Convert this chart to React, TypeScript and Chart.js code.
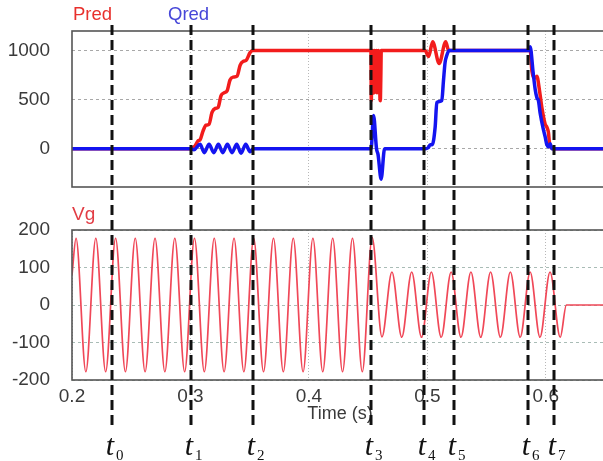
import React, { useEffect, useRef } from 'react';
import { Chart, registerables } from 'chart.js';

Chart.register(...registerables);

const X_MIN = 0.2;
const X_MAX = 0.65;
const X_TICKS = [0.2, 0.3, 0.4, 0.5, 0.6];
const TOP_Y_TICKS = [0, 500, 1000];

// Event instants t0..t7 (s)
const eventTimes = [0.2338, 0.3003, 0.3529, 0.4523, 0.4973, 0.5226, 0.5851, 0.6071];
const eventLabels = ['0', '1', '2', '3', '4', '5', '6', '7'];

// Pred (red)
const predT = [0.2, 0.2997, 0.3039, 0.3064, 0.3081, 0.3106, 0.3132, 0.3157, 0.3182, 0.3208, 0.3233, 0.3258, 0.3284, 0.3309, 0.3334, 0.336, 0.3394, 0.3419, 0.3444, 0.347, 0.3503, 0.3529,
  0.4524, 0.4527, 0.4531, 0.4535, 0.4539, 0.4543, 0.4547, 0.4551, 0.4555, 0.4559, 0.4563, 0.4567, 0.4571, 0.4575, 0.4579, 0.4583, 0.4587, 0.4591, 0.4595, 0.4599, 0.4603, 0.4607, 0.4611,
  0.4981, 0.5011, 0.5045, 0.51, 0.5155, 0.518,
  0.5854, 0.5868, 0.5883, 0.591, 0.5925, 0.5944, 0.5967, 0.5995, 0.6009, 0.6023, 0.6031, 0.6046, 0.6062, 0.65];
const predV = [0, 0, 30, 80, 90, 180, 240, 250, 370, 410, 420, 540, 570, 590, 700, 730, 740, 850, 890, 900, 980, 1000,
  1000, 490, 990, 560, 1000, 580, 990, 570, 1000, 600, 990, 580, 1000, 570, 990, 590, 1000, 600, 990, 560, 490, 700, 1000,
  1000, 940, 1090, 870, 1090, 1000,
  1000, 1010, 790, 720, 740, 620, 420, 250, 220, 160, 60, 10, 0, 0];

// Qred (blue)
const qredT = [0.2, 0.2997, 0.303, 0.3081, 0.3117, 0.3157, 0.3197, 0.3236, 0.3273, 0.3312, 0.3351, 0.3391, 0.3427, 0.3467, 0.3503, 0.3529,
  0.4525, 0.4546, 0.4571, 0.4584, 0.461, 0.4639,
  0.4981, 0.5007, 0.5024, 0.5041, 0.5066, 0.508, 0.5122, 0.5136, 0.515, 0.5164, 0.5184,
  0.5854, 0.5868, 0.5893, 0.591, 0.5925, 0.5938, 0.5953, 0.5981, 0.5995, 0.6009, 0.6023, 0.6037, 0.6052, 0.65];
const qredV = [0, 0, -10, 45, -40, 45, -40, 45, -40, 45, -40, 45, -45, 45, -30, 0,
  0, 340, 0, -60, -310, 0,
  0, 10, 40, 40, 220, 470, 490, 690, 880, 950, 1000,
  1000, 1040, 780, 610, 520, 490, 360, 190, 120, 40, 20, 50, 0, 0];

// Vg (grid voltage) extrema
const vgT = [0.2, 0.2034, 0.2117, 0.2201, 0.2284, 0.2368, 0.2451, 0.2534, 0.2617, 0.2701, 0.2784, 0.2868, 0.2951,
  0.3034, 0.3117, 0.3201, 0.3284, 0.3368, 0.3451, 0.3534, 0.3617, 0.3701, 0.3784, 0.3868, 0.3951,
  0.4034, 0.4117, 0.4201, 0.4284, 0.4368, 0.4451, 0.4534,
  0.4617, 0.4701, 0.4784, 0.4868, 0.4951, 0.5034, 0.5117, 0.5201, 0.5284, 0.5368, 0.5451, 0.5534,
  0.5617, 0.5701, 0.5784, 0.5868, 0.5951, 0.6036, 0.6122, 0.6174, 0.65];
const vgV = [80, 178, -178, 178, -178, 178, -178, 178, -178, 178, -178, 178, -178,
  178, -178, 178, -178, 178, -178, 178, -178, 178, -178, 178, -178,
  178, -178, 178, -178, 178, -178, 180,
  -85, 88, -86, 88, -86, 88, -86, 88, -86, 88, -86, 88,
  -86, 88, -86, 88, -86, 88, -86, 0, 0];

const FONT = "'Liberation Sans', Arial, sans-serif";
const TICK_COLOR = '#3a3a3a';

const toXY = (t: number[], v: number[]) => t.map((x, i) => ({ x, y: v[i] }));

const fixYAxis = (s: any) => {
  s.width = 72;
  s.paddingTop = 0;
  s.paddingBottom = 0;
};

const framePlugin = {
  id: 'frame',
  afterDatasetsDraw(chart: any) {
    const { ctx, chartArea } = chart;
    ctx.save();
    ctx.strokeStyle = '#555';
    ctx.lineWidth = 1.6;
    ctx.strokeRect(chartArea.left, chartArea.top, chartArea.right - chartArea.left, chartArea.bottom - chartArea.top);
    ctx.restore();
  },
};

const makeTextPlugin = (items: { text: string; x: number; y: number; color: string; size: number; align?: string }[]) => ({
  id: 'texts',
  afterDraw(chart: any) {
    const ctx = chart.ctx;
    ctx.save();
    items.forEach((it) => {
      ctx.font = `${it.size}px ${FONT}`;
      ctx.fillStyle = it.color;
      ctx.textAlign = it.align || 'left';
      ctx.textBaseline = 'alphabetic';
      ctx.fillText(it.text, it.x, it.y);
    });
    ctx.restore();
  },
});

export default function App() {
  const topRef = useRef<HTMLCanvasElement>(null);
  const botRef = useRef<HTMLCanvasElement>(null);
  const overRef = useRef<HTMLCanvasElement>(null);

  useEffect(() => {
    const xBase = {
      type: 'linear' as const,
      min: X_MIN,
      max: X_MAX,
    };

    const top = new Chart(topRef.current!, {
      type: 'line',
      data: {
        datasets: [
          {
            label: 'Qred',
            data: toXY(qredT, qredV),
            borderColor: '#1414f0',
            borderWidth: 3.5,
            pointRadius: 0,
            cubicInterpolationMode: 'monotone',
          },
          {
            label: 'Pred',
            data: toXY(predT, predV),
            borderColor: '#f21c1c',
            borderWidth: 3.5,
            pointRadius: 0,
            cubicInterpolationMode: 'monotone',
          },
        ],
      },
      options: {
        animation: false,
        responsive: false,
        maintainAspectRatio: false,
        parsing: false as any,
        layout: { padding: { top: 31, bottom: 13, left: 0, right: 3 } },
        plugins: { legend: { display: false }, tooltip: { enabled: false } },
        scales: {
          x: {
            ...xBase,
            ticks: { display: false },
            grid: { color: '#b8b8b8', drawTicks: false, lineWidth: 1 },
            border: { display: false, dash: [1, 2] },
            afterBuildTicks: (s: any) => { s.ticks = [0.3, 0.4, 0.5, 0.6].map((v) => ({ value: v })); },
            afterFit: (s: any) => { s.height = 0; },
          },
          y: {
            type: 'linear',
            min: -390,
            max: 1200,
            ticks: { color: TICK_COLOR, font: { size: 19, family: FONT }, padding: 22, callback: (v: any) => String(v) },
            grid: { color: '#a8a8a8', drawTicks: false, lineWidth: 1 },
            border: { display: false, dash: [3, 3] },
            afterBuildTicks: (s: any) => { s.ticks = TOP_Y_TICKS.map((v) => ({ value: v })); },
            afterFit: fixYAxis,
          },
        },
      },
      plugins: [framePlugin, makeTextPlugin([
        { text: 'Pred', x: 73, y: 20, color: '#e8302c', size: 18.5 },
        { text: 'Qred', x: 168, y: 20, color: '#4646d8', size: 18.5 },
      ])],
    } as any);

    const bot = new Chart(botRef.current!, {
      type: 'line',
      data: {
        datasets: [
          {
            label: 'Vg',
            data: toXY(vgT, vgV),
            borderColor: '#f04858',
            borderWidth: 1.7,
            pointRadius: 0,
            cubicInterpolationMode: 'monotone',
          },
        ],
      },
      options: {
        animation: false,
        responsive: false,
        maintainAspectRatio: false,
        parsing: false as any,
        layout: { padding: { top: 30, bottom: 0, left: 0, right: 3 } },
        plugins: { legend: { display: false }, tooltip: { enabled: false } },
        scales: {
          x: {
            ...xBase,
            ticks: {
              color: TICK_COLOR,
              font: { size: 19, family: FONT },
              padding: 5,
              maxRotation: 0,
              callback: (v: any) => Number(v).toFixed(1),
            },
            grid: { color: '#b8b8b8', drawTicks: false, lineWidth: 1 },
            border: { display: false, dash: [1, 2] },
            afterBuildTicks: (s: any) => { s.ticks = X_TICKS.map((v) => ({ value: v })); },
            afterFit: (s: any) => { s.height = 81; },
          },
          y: {
            type: 'linear',
            min: -200,
            max: 200,
            ticks: { color: TICK_COLOR, font: { size: 19, family: FONT }, padding: 22, stepSize: 100 },
            grid: { color: '#a9bcb6', drawTicks: false, lineWidth: 1 },
            border: { display: false, dash: [3, 3] },
            afterFit: fixYAxis,
          },
        },
      },
      plugins: [framePlugin, makeTextPlugin([
        { text: 'Vg', x: 72, y: 20, color: '#e23c44', size: 19 },
        { text: 'Time (s)', x: 340, y: 219, color: TICK_COLOR, size: 18, align: 'center' },
      ])],
    } as any);

    // Overlay: dashed event lines and labels
    const oc = overRef.current!;
    const ctx = oc.getContext('2d')!;
    ctx.clearRect(0, 0, oc.width, oc.height);
    const xs = top.scales.x;
    eventTimes.forEach((t, i) => {
      const px = Math.round(xs.getPixelForValue(t));
      ctx.save();
      ctx.strokeStyle = '#111';
      ctx.lineWidth = 3;
      ctx.setLineDash([10, 5]);
      ctx.beginPath();
      ctx.moveTo(px, 25);
      ctx.lineTo(px, 430);
      ctx.stroke();
      ctx.restore();
      ctx.fillStyle = '#111';
      ctx.font = "italic 30px 'Liberation Serif', 'DejaVu Serif', serif";
      ctx.textAlign = 'center';
      ctx.textBaseline = 'alphabetic';
      ctx.fillText('t', px - 2, 455);
      ctx.font = "15px 'Liberation Serif', 'DejaVu Serif', serif";
      ctx.textAlign = 'left';
      ctx.fillText(eventLabels[i], px + 4, 460);
    });

    return () => {
      top.destroy();
      bot.destroy();
    };
  }, []);

  return (
    <div style={{ position: 'fixed', left: 0, top: 0, width: 603, height: 461, overflow: 'hidden', background: '#fff' }}>
      <canvas ref={botRef} width={608} height={261} style={{ position: 'absolute', left: 0, top: 200, width: 608, height: 261 }} />
      <canvas ref={topRef} width={608} height={200} style={{ position: 'absolute', left: 0, top: 0, width: 608, height: 200 }} />
      <canvas ref={overRef} width={603} height={461} style={{ position: 'absolute', left: 0, top: 0, width: 603, height: 461, pointerEvents: 'none' }} />
    </div>
  );
}
